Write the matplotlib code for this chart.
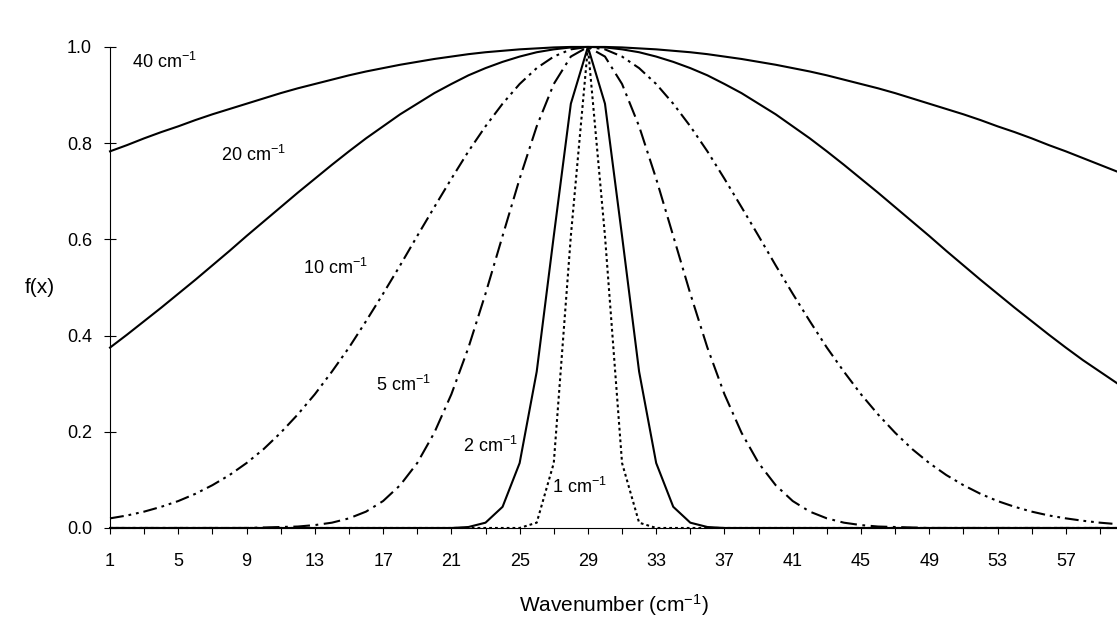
import numpy as np
import matplotlib
matplotlib.use("Agg")
import matplotlib.pyplot as plt
from matplotlib.ticker import MultipleLocator, FormatStrFormatter

plt.rcParams['font.family'] = ['Liberation Sans', 'DejaVu Sans']
plt.rcParams['mathtext.default'] = 'regular'
plt.rcParams['lines.scale_dashes'] = False

# wavenumber categories
wavenumber = np.arange(1, 61)

# line shapes, one per resolution
s40 = [0.783, 0.796, 0.810, 0.823, 0.835, 0.848, 0.860, 0.871, 0.882, 0.893,
       0.904, 0.914, 0.923, 0.932, 0.941, 0.949, 0.956, 0.963, 0.969, 0.975,
       0.980, 0.985, 0.989, 0.992, 0.995, 0.997, 0.999, 1.000, 1.000, 1.000,
       0.999, 0.997, 0.995, 0.992, 0.989, 0.985, 0.980, 0.975, 0.969, 0.963,
       0.956, 0.949, 0.941, 0.932, 0.923, 0.914, 0.904, 0.893, 0.882, 0.871,
       0.860, 0.848, 0.835, 0.823, 0.810, 0.796, 0.783, 0.769, 0.755, 0.741]
s20 = [0.375, 0.402, 0.430, 0.458, 0.487, 0.516, 0.546, 0.576, 0.607, 0.637,
       0.667, 0.697, 0.726, 0.755, 0.783, 0.810, 0.835, 0.860, 0.882, 0.904,
       0.923, 0.941, 0.956, 0.969, 0.980, 0.989, 0.995, 0.999, 1.000, 0.999,
       0.995, 0.989, 0.980, 0.969, 0.956, 0.941, 0.923, 0.904, 0.882, 0.860,
       0.835, 0.810, 0.783, 0.755, 0.726, 0.697, 0.667, 0.637, 0.607, 0.576,
       0.546, 0.516, 0.487, 0.458, 0.430, 0.402, 0.375, 0.349, 0.325, 0.301]
s10 = [0.020, 0.026, 0.034, 0.044, 0.056, 0.071, 0.089, 0.110, 0.135, 0.164,
       0.198, 0.236, 0.278, 0.325, 0.375, 0.430, 0.487, 0.546, 0.607, 0.667,
       0.726, 0.783, 0.835, 0.882, 0.923, 0.956, 0.980, 0.995, 1.000, 0.995,
       0.980, 0.956, 0.923, 0.882, 0.835, 0.783, 0.726, 0.667, 0.607, 0.546,
       0.487, 0.430, 0.375, 0.325, 0.278, 0.236, 0.198, 0.164, 0.135, 0.110,
       0.089, 0.071, 0.056, 0.044, 0.034, 0.026, 0.020, 0.015, 0.011, 0.008]
s5 = [0.000, 0.000, 0.000, 0.000, 0.000, 0.000, 0.000, 0.000, 0.000, 0.001,
      0.002, 0.003, 0.006, 0.011, 0.020, 0.034, 0.056, 0.089, 0.135, 0.198,
      0.278, 0.375, 0.487, 0.607, 0.726, 0.835, 0.923, 0.980, 1.000, 0.980,
      0.923, 0.835, 0.726, 0.607, 0.487, 0.375, 0.278, 0.198, 0.135, 0.089,
      0.056, 0.034, 0.020, 0.011, 0.006, 0.003, 0.002, 0.001, 0.000, 0.000,
      0.000, 0.000, 0.000, 0.000, 0.000, 0.000, 0.000, 0.000, 0.000, 0.000]
s2 = [0.000, 0.000, 0.000, 0.000, 0.000, 0.000, 0.000, 0.000, 0.000, 0.000,
      0.000, 0.000, 0.000, 0.000, 0.000, 0.000, 0.000, 0.000, 0.000, 0.000,
      0.000, 0.002, 0.011, 0.044, 0.135, 0.325, 0.607, 0.882, 1.000, 0.882,
      0.607, 0.325, 0.135, 0.044, 0.011, 0.002, 0.000, 0.000, 0.000, 0.000,
      0.000, 0.000, 0.000, 0.000, 0.000, 0.000, 0.000, 0.000, 0.000, 0.000,
      0.000, 0.000, 0.000, 0.000, 0.000, 0.000, 0.000, 0.000, 0.000, 0.000]
s1 = [0.000, 0.000, 0.000, 0.000, 0.000, 0.000, 0.000, 0.000, 0.000, 0.000,
      0.000, 0.000, 0.000, 0.000, 0.000, 0.000, 0.000, 0.000, 0.000, 0.000,
      0.000, 0.000, 0.000, 0.000, 0.000, 0.011, 0.135, 0.607, 1.000, 0.607,
      0.135, 0.011, 0.000, 0.000, 0.000, 0.000, 0.000, 0.000, 0.000, 0.000,
      0.000, 0.000, 0.000, 0.000, 0.000, 0.000, 0.000, 0.000, 0.000, 0.000,
      0.000, 0.000, 0.000, 0.000, 0.000, 0.000, 0.000, 0.000, 0.000, 0.000]

labels = ['40 cm$^{-1}$', '20 cm$^{-1}$', '10 cm$^{-1}$',
          '5 cm$^{-1}$', '2 cm$^{-1}$', '1 cm$^{-1}$']
label_x = [4.2, 9.4, 14.2, 18.2, 23.3, 28.5]
label_y = [0.968, 0.775, 0.540, 0.297, 0.170, 0.085]

fs = 13
fs_title = 15

fig = plt.figure(figsize=(11.17, 6.21), dpi=100)
ax = fig.add_axes([0.0985, 0.1498, 0.9015, 0.7746])

lw = 1.5
ax.plot(wavenumber, s40, color='black', lw=lw, clip_on=False)
ax.plot(wavenumber, s20, color='black', lw=lw, clip_on=False)
ax.plot(wavenumber, s10, color='black', lw=lw, clip_on=False,
        dashes=(10, 3.5, 2, 3.5, 2, 3.5))
ax.plot(wavenumber, s5, color='black', lw=lw, clip_on=False,
        dashes=(12, 4, 2, 4))
ax.plot(wavenumber, s2, color='black', lw=lw, clip_on=False)
ax.plot(wavenumber, s1, color='black', lw=lw, clip_on=False,
        dashes=(2, 2.2))

for t, tx, ty in zip(labels, label_x, label_y):
    ax.text(tx, ty, t, fontsize=fs, ha='center', va='center')

ax.set_xlim(1, 60)
ax.set_ylim(0, 1)
ax.set_xticks(range(1, 58, 4))
ax.set_xticks(range(3, 60, 4), minor=True)
ax.yaxis.set_major_locator(MultipleLocator(0.2))
ax.yaxis.set_major_formatter(FormatStrFormatter('%.1f'))

ax.spines['top'].set_visible(False)
ax.spines['right'].set_visible(False)
ax.spines['left'].set_linewidth(0.8)
ax.spines['bottom'].set_linewidth(0.8)

ax.tick_params(axis='x', which='both', direction='out', length=4, width=0.8,
               pad=14, labelsize=fs)
ax.tick_params(axis='x', which='minor', labelbottom=False)
ax.tick_params(axis='y', direction='inout', length=8, width=0.8, pad=9,
               labelsize=fs)

ax.set_xlabel('Wavenumber (cm$^{-1}$)', fontsize=fs_title)
ax.xaxis.set_label_coords(0.5, -0.160)
ax.xaxis.label.set_va('center')
ax.set_ylabel('f(x)', fontsize=fs_title, rotation=0)
ax.yaxis.set_label_coords(-0.0695, 0.5)
ax.yaxis.label.set_va('center')
ax.yaxis.label.set_ha('center')

fig.savefig('out.png', dpi=100)
